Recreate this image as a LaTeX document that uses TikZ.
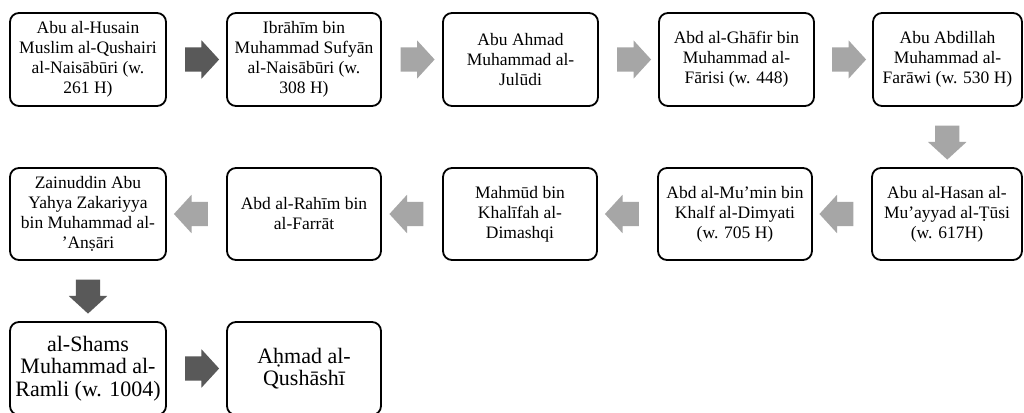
\documentclass[tikz,border=0pt]{standalone}
\usepackage{fontspec}
\setmainfont{Liberation Serif}
\usetikzlibrary{shapes.arrows,calc}
\definecolor{arrdark}{HTML}{595959}
\definecolor{arrlight}{HTML}{A6A6A6}
\tikzset{
  person/.style={draw=black, line width=1.8pt, rounded corners=9pt, align=center,
    inner sep=2pt, minimum height=93pt,
    font=\fontsize{17.5}{20}\selectfont},
  bigperson/.style={person, font=\fontsize{22}{22.5}\selectfont},
  blockarrow/.style={single arrow, draw=none, inner xsep=0pt, inner ysep=12pt,
    minimum height=34pt, single arrow head extend=7pt, single arrow tip angle=95},
  darkarrow/.style={blockarrow, fill=arrdark},
  lightarrow/.style={blockarrow, fill=arrlight}
}
\begin{document}
\begin{tikzpicture}[x=1pt,y=-1pt]
\useasboundingbox[fill=white] (0,0) rectangle (1024,412);
% row 1
\node[person, minimum width=156pt] (b1) at (88,59.5) {Abu al-Husain\\Muslim al-Qushairi\\al-Naisābūri (w.\\261 H)};
\node[person, minimum width=154pt] (b2) at (304,59.5) {Ibrāhīm bin\\Muhammad Sufyān\\al-Naisābūri (w.\\308 H)};
\node[person, minimum width=155pt] (b3) at (520.5,59.5) {Abu Ahmad\\Muhammad al-\\Julūdi};
\node[person, minimum width=155pt] (b4) at (736.5,59.5) {Abd al-Ghāfir bin\\Muhammad al-\\Fārisi (w. 448)};
\node[person, minimum width=149pt] (b5) at (947.5,59.5) {Abu Abdillah\\Muhammad al-\\Farāwi (w. 530 H)};
% row 2
\node[person, minimum width=150pt, minimum height=92pt] (b10) at (947,214) {Abu al-Hasan al-\\Mu’ayyad al-Ṭūsi\\(w. 617H)};
\node[person, minimum width=154pt, minimum height=92pt] (b9) at (735,214) {Abd al-Mu’min bin\\Khalf al-Dimyati\\(w. 705 H)};
\node[person, minimum width=154pt, minimum height=92pt] (b8) at (520,214) {Mahmūd bin\\Khalīfah al-\\Dimashqi};
\node[person, minimum width=154pt, minimum height=92pt] (b7) at (304,214) {Abd al-Rahīm bin\\al-Farrāt};
\node[person, minimum width=156pt, minimum height=92pt] (b6) at (88,214) {Zainuddin Abu\\Yahya Zakariyya\\bin Muhammad al-\\’Anṣāri};
% row 3
\node[bigperson, minimum width=156pt] (b11) at (88,368.5) {al-Shams\\Muhammad al-\\Ramli (w. 1004)};
\node[bigperson, minimum width=154pt] (b12) at (304,368.5) {Aḥmad al-\\Qushāshī};
% arrows
\node[darkarrow] (a1) at ($(b1.east)!0.5!(b2.west)$) {};
\node[lightarrow] (a2) at ($(b2.east)!0.5!(b3.west)$) {};
\node[lightarrow] (a3) at ($(b3.east)!0.5!(b4.west)$) {};
\node[lightarrow] (a4) at ($(b4.east)!0.5!(b5.west)$) {};
\node[lightarrow, rotate=-90] (a5) at ($(b5.south)!0.5!(b10.north)$) {};
\node[lightarrow, rotate=180] (a6) at ($(b10.west)!0.5!(b9.east)$) {};
\node[lightarrow, rotate=180] (a7) at ($(b9.west)!0.5!(b8.east)$) {};
\node[lightarrow, rotate=180] (a8) at ($(b8.west)!0.5!(b7.east)$) {};
\node[lightarrow, rotate=180] (a9) at ($(b7.west)!0.5!(b6.east)$) {};
\node[darkarrow, rotate=-90] (a10) at ($(b6.south)!0.5!(b11.north)$) {};
\node[darkarrow] (a11) at ($(b11.east)!0.5!(b12.west)$) {};
\end{tikzpicture}
\end{document}
